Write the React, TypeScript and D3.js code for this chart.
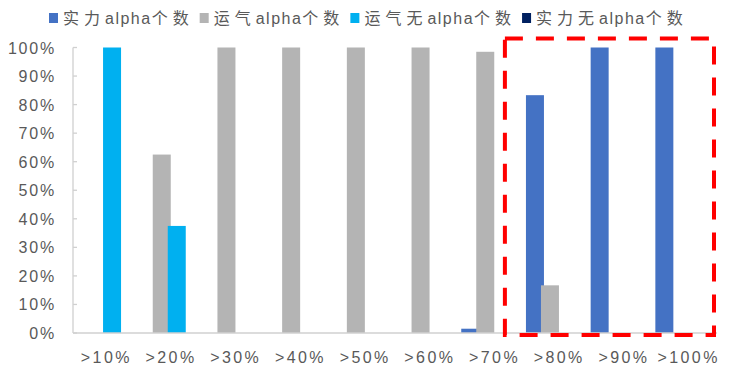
import React from 'react';
import * as d3 from 'd3';

const categories = ['>10%', '>20%', '>30%', '>40%', '>50%', '>60%', '>70%', '>80%', '>90%', '>100%'];
const seriesNames = ['实力alpha个数', '运气alpha个数', '运气无alpha个数', '实力无alpha个数'];
const seriesColors = ['#4472C4', '#B4B4B4', '#00B0F0', '#002060'];
// share of funds in each bucket (0..1)
const skillAlpha = [0, 0, 0, 0, 0, 0, 0.015, 0.833, 1, 1];
const luckAlpha = [0, 0.625, 1, 1, 1, 1, 0.985, 0.167, 0, 0];
const luckNoAlpha = [1, 0.375, 0, 0, 0, 0, 0, 0, 0, 0];
const skillNoAlpha = [0, 0, 0, 0, 0, 0, 0, 0, 0, 0];
const yTicks = [0, 0.1, 0.2, 0.3, 0.4, 0.5, 0.6, 0.7, 0.8, 0.9, 1];
const highlightFrom = '>80%';

const FONT = '"Liberation Sans", Arial, "Noto Sans CJK SC", sans-serif';

const App: React.FC = () => {
  const ref = React.useRef<SVGSVGElement>(null);

  React.useEffect(() => {
    const svg = d3.select(ref.current);
    svg.selectAll('*').remove();

    const left = 73;
    const right = 720;
    const top = 47.5;
    const bottom = 333;

    const x = d3.scaleBand<string>().domain(categories).range([left, right]).padding(0);
    const y = d3.scaleLinear().domain([0, 1]).range([bottom, top]);

    const series = [skillAlpha, luckAlpha, luckNoAlpha, skillNoAlpha];
    const barW = 18;
    const barStep = 15;
    const groupW = barStep * (series.length - 1) + barW;

    // bars
    series.forEach((vals, s) => {
      svg
        .append('g')
        .selectAll('rect')
        .data(vals.map((v, i) => ({ v, c: categories[i] })))
        .enter()
        .filter((d) => d.v > 0)
        .append('rect')
        .attr('x', (d) => (x(d.c) as number) + (x.bandwidth() - groupW) / 2 - 0.8 + s * barStep)
        .attr('y', (d) => y(d.v))
        .attr('width', barW)
        .attr('height', (d) => y(0) - y(d.v))
        .attr('fill', seriesColors[s]);
    });

    // y axis
    const yAxis = svg.append('g');
    yAxis
      .append('line')
      .attr('x1', left)
      .attr('x2', left)
      .attr('y1', y(1))
      .attr('y2', y(0))
      .attr('stroke', '#D0D0D0')
      .attr('stroke-width', 1.3);
    yAxis
      .selectAll('line.tick')
      .data(yTicks)
      .enter()
      .append('line')
      .attr('class', 'tick')
      .attr('x1', left)
      .attr('x2', left + 4)
      .attr('y1', (d) => y(d))
      .attr('y2', (d) => y(d))
      .attr('stroke', '#D0D0D0')
      .attr('stroke-width', 1.3);
    yAxis
      .selectAll('text')
      .data(yTicks)
      .enter()
      .append('text')
      .attr('x', 56)
      .attr('y', (d) => y(d) + 6)
      .attr('text-anchor', 'end')
      .attr('font-family', FONT)
      .attr('font-size', 16)
      .attr('letter-spacing', 1.8)
      .attr('fill', '#595959')
      .text((d) => d3.format('.0%')(d));

    // x axis
    svg
      .append('line')
      .attr('x1', left)
      .attr('x2', right - 3)
      .attr('y1', bottom)
      .attr('y2', bottom)
      .attr('stroke', '#D0D0D0')
      .attr('stroke-width', 1.3);
    svg
      .append('g')
      .selectAll('text')
      .data(categories)
      .enter()
      .append('text')
      .attr('x', (d) => (x(d) as number) + x.bandwidth() / 2 + 1)
      .attr('y', 363)
      .attr('text-anchor', 'middle')
      .attr('font-family', FONT)
      .attr('font-size', 16)
      .attr('letter-spacing', 2.4)
      .attr('fill', '#595959')
      .text((d) => d);

    // highlight box
    const bx0 = (x(highlightFrom) as number) - 21;
    const bx1 = right - 6;
    const by0 = y(1) - 9;
    const by1 = y(0) + 2;
    svg
      .append('rect')
      .attr('x', bx0)
      .attr('y', by0)
      .attr('width', bx1 - bx0)
      .attr('height', by1 - by0)
      .attr('fill', 'none')
      .attr('stroke', '#FF0000')
      .attr('stroke-width', 4)
      .attr('stroke-dasharray', '18 13');

    // legend: CJK runs are spaced wider than latin runs
    const legend = svg.append('g');
    let lx = 49;
    seriesNames.forEach((name, s) => {
      legend
        .append('rect')
        .attr('x', lx)
        .attr('y', 13)
        .attr('width', 9)
        .attr('height', 10)
        .attr('fill', seriesColors[s]);
      const t = legend
        .append('text')
        .attr('x', lx + 14)
        .attr('y', 24)
        .attr('font-family', FONT)
        .attr('font-size', 16)
        .attr('fill', '#595959');
      const runs = name.match(/[a-zA-Z]+|[^a-zA-Z]+/g) || [];
      runs.forEach((r) => {
        t.append('tspan')
          .attr('letter-spacing', /[a-zA-Z]/.test(r) ? 1.5 : 5)
          .text(r);
      });
      const len = (t.node() as SVGTextElement).getComputedTextLength();
      lx = lx + 14 + len + 6;
    });
  }, []);

  return (
    <svg
      ref={ref}
      width={732}
      height={372}
      style={{ position: 'absolute', left: 0, top: 0, background: '#fff' }}
    />
  );
};

export default App;
